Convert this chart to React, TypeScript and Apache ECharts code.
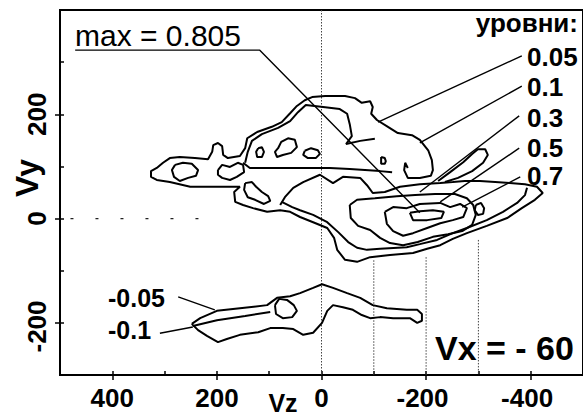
import React, { useEffect, useRef } from "react";
import * as echarts from "echarts";

type P = [number, number];

// Axis ranges (Vz axis runs from +500 on the left to -500 on the right)
const VZ_RANGE: P = [-500, 500];
const VY_RANGE: P = [-300, 400];

// ---- contour level 0.05 (outer boundary of the whole upper structure) ----
const contour005: P[] = [
  [79, 26], [70, 41], [54, 59], [35, 70], [3, 84], [-22, 68], [-41, 80], [-74, 78], [-87, 64], [-98, 49],
  [-121, 51], [-150, 61], [-188, 66], [-227, 68], [-251, 70], [-274, 72], [-303, 72], [-332, 70], [-360, 68],
  [-389, 66], [-412, 61], [-423, 49], [-408, 36], [-383, 20], [-355, 1], [-316, -14], [-278, -28], [-251, -39],
  [-227, -51], [-202, -58], [-175, -66], [-131, -70], [-93, -74], [-68, -83], [-45, -79], [-30, -60], [-24, -37],
  [-11, -18], [16, -7], [41, 3], [60, 13], [79, 16], [104, 13], [131, 20], [150, 26], [165, 32], [167, 51],
  [156, 61], [251, 61], [290, 70], [315, 74], [326, 80], [326, 91], [315, 97], [303, 107], [290, 116], [271, 118],
  [242, 116], [217, 114], [209, 128], [207, 141], [198, 145], [190, 139], [188, 122], [179, 116], [156, 120],
  [146, 135], [142, 154], [123, 166], [95, 176], [76, 185], [60, 202], [47, 216], [32, 227], [18, 233], [-7, 235],
  [-45, 235], [-64, 231], [-77, 222], [-93, 225], [-98, 214], [-95, 201], [-106, 189], [-127, 176], [-146, 164],
  [-173, 160], [-188, 151], [-204, 131], [-211, 112], [-213, 93], [-209, 82], [-188, 78], [-165, 78], [-158, 93],
  [-160, 107], [-165, 97],
];
const contour005Finger: P[] = [
  [-223, 72], [-246, 89], [-271, 108], [-288, 124], [-299, 133], [-313, 133], [-318, 122], [-309, 107],
  [-288, 91], [-261, 78], [-236, 70],
];

// ---- contour level 0.1 ----
const contour01Upper: P[] = [
  [146, 107], [141, 128], [133, 149], [114, 162], [83, 174], [60, 187], [45, 204], [30, 218], [-3, 214],
  [-35, 210], [-49, 201], [-54, 181], [-58, 158], [-47, 143], [-74, 149], [-102, 153],
];
const contour01UpperBase: P[] = [
  [150, 107], [137, 97], [114, 97], [66, 97], [22, 97], [-16, 97], [-54, 95], [-112, 91], [-135, 89],
];
const contour01Central: P[] = [
  [76, 32], [56, 22], [41, 16], [16, 7], [-11, -7], [-32, -26], [-51, -45], [-68, -56], [-87, -60], [-112, -58],
  [-163, -55], [-188, -49], [-221, -41], [-251, -28], [-278, -18], [-316, -3], [-347, 13], [-374, 30], [-389, 45],
  [-393, 59],
];
const islandsUpper: P[][] = [
  [[280, 103], [265, 107], [248, 105], [236, 93], [240, 82], [255, 78], [271, 72], [282, 80], [286, 93], [280, 103]],
  [[198, 93], [190, 103], [175, 99], [160, 107], [150, 103], [148, 89], [162, 80], [175, 74], [190, 78], [198, 84], [198, 93]],
  [[146, 68], [133, 70], [125, 61], [114, 51], [102, 43], [98, 34], [110, 28], [127, 36], [141, 41], [148, 55], [146, 68]],
  [[121, 135], [114, 137], [110, 128], [114, 118], [123, 118], [125, 128], [121, 135]],
  [[83, 135], [77, 147], [64, 154], [51, 151], [47, 137], [58, 126], [74, 122], [85, 118], [89, 128], [83, 135]],
  [[32, 130], [20, 135], [7, 131], [3, 124], [11, 116], [26, 116], [35, 122], [32, 130]],
  [[-114, 118], [-121, 116], [-123, 110], [-121, 105], [-114, 105], [-114, 118]],
];

// ---- contour levels 0.3, 0.5, 0.7 ----
const contour03: P[] = [
  [-54, 26], [-68, 36], [-102, 39], [-144, 43], [-179, 45], [-217, 47], [-255, 47], [-278, 39], [-290, 26],
  [-295, 7], [-288, -12], [-269, -24], [-242, -30], [-213, -35], [-184, -45], [-156, -51], [-131, -47],
  [-112, -37], [-93, -22], [-70, -14], [-56, 1], [-54, 26],
];
const contour03Island: P[] = [[-295, 26], [-305, 30], [-311, 20], [-309, 9], [-299, 7], [-293, 16], [-295, 26]];
const contour05: P[] = [
  [-121, 13], [-137, 22], [-163, 20], [-188, 28], [-227, 30], [-246, 22], [-265, 28], [-278, 20], [-271, 3],
  [-251, -3], [-227, -9], [-202, -18], [-175, -28], [-156, -33], [-137, -24], [-125, -10], [-121, 13],
];
const contour07: P[] = [
  [-169, 11], [-188, 14], [-213, 16], [-234, 13], [-229, 1], [-202, -3], [-175, -3], [-169, 11],
];

// ---- negative levels -0.05, -0.1 ----
const contourNeg005: P[] = [
  [248, -202], [232, -191], [200, -177], [156, -172], [104, -166], [85, -152], [60, -149], [41, -143], [16, -133],
  [-1, -126], [-22, -133], [-49, -143], [-74, -152], [-98, -166], [-125, -172], [-163, -175], [-183, -175],
  [-192, -183], [-192, -196], [-183, -200], [-169, -191], [-137, -191], [-112, -189], [-93, -191], [-77, -185],
  [-60, -175], [-41, -170], [-22, -166], [-11, -177], [-1, -200], [16, -219], [35, -223], [54, -212], [74, -210],
  [98, -210], [121, -218], [156, -223], [181, -231], [198, -237], [219, -225], [236, -214], [248, -202],
];
const contourNeg01Island: P[] = [
  [89, -166], [81, -154], [66, -156], [53, -166], [47, -177], [56, -189], [74, -191], [87, -183], [89, -166],
];
const contourNeg01Line: P[] = [[246, -206], [200, -195], [146, -187], [98, -179]];

// ---- leader lines (label -> contour) ----
const leaderMax: P[] = [[471, 323], [118, 323], [-188, 11]];
const leaders: P[][] = [
  [[-383, 312], [-108, 185]],
  [[-383, 254], [-188, 145]],
  [[-378, 197], [-188, 51]],
  [[-378, 135], [-227, 32]],
  [[-380, 80], [-269, 22]],
  [[274, -150], [204, -175]],
  [[309, -220], [246, -208]],
];

// ---- dotted reference lines ----
const refVz = [0, -100, -200, -300];
const refVyTop = [400, -80, -74, -41];
const zeroLineVz: P = [480, 230];

// ---- texts ----
const levelTitle = "уровни:";
const levelLabels = ["0.05", "0.1", "0.3", "0.5", "0.7"];
const negLabels = ["-0.05", "-0.1"];
const maxLabel = "max = 0.805";
const vxLabel = "Vx = - 60";

const FONT = "Liberation Sans, Arial, Helvetica, sans-serif";

const tickFmt = (v: number) => (v < 0 ? `-${Math.abs(v)}\u00a0` : `${v}`);

export default function App() {
  const ref = useRef<HTMLDivElement>(null);

  useEffect(() => {
    if (!ref.current) return;
    const chart = echarts.init(ref.current, undefined, { renderer: "svg" });

    const line = (data: P[], width = 2, z = 3) => ({
      type: "line",
      xAxisIndex: 0,
      yAxisIndex: 0,
      data,
      symbol: "none",
      showSymbol: false,
      silent: true,
      z,
      lineStyle: { color: "#000", width },
    });

    const series: any[] = [];
    refVz.forEach((vz, i) => {
      series.push({
        type: "line",
        xAxisIndex: 0,
        yAxisIndex: 0,
        data: [[vz, refVyTop[i]], [vz, VY_RANGE[0]]],
        symbol: "none",
        silent: true,
        z: 1,
        lineStyle: { color: "#444", width: 1, type: [1.5, 1.5] },
      });
    });
    series.push({
      type: "line",
      xAxisIndex: 0,
      yAxisIndex: 0,
      data: [[zeroLineVz[0], 0], [zeroLineVz[1], 0]],
      symbol: "none",
      silent: true,
      z: 1,
      lineStyle: { color: "#222", width: 1.2, type: [3, 22] },
    });

    [contour005, contour005Finger, contour01Upper, contour01UpperBase, contour01Central, contour03,
      contour03Island, contour05, contour07, contourNeg005, contourNeg01Island, contourNeg01Line,
      ...islandsUpper].forEach((c) => series.push(line(c, 2)));
    series.push(line(leaderMax, 1.4, 4));
    leaders.forEach((l) => series.push(line(l, 1.4, 4)));

    const txt = (text: string, x: number, y: number, fontSize: number, fontWeight: string, align = "left", rotation = 0) => ({
      type: "text",
      x,
      y,
      rotation,
      z: 10,
      style: {
        text,
        fontSize,
        fontWeight,
        fontFamily: FONT,
        fill: "#000",
        align,
        verticalAlign: "middle",
      },
    });

    const levelY = [57, 87, 118, 148, 176];
    const graphic: any[] = [
      txt(maxLabel, 75, 35, 30, "normal"),
      txt(levelTitle, 578, 23, 26, "bold", "right"),
      ...levelLabels.map((t, i) => txt(t, 527, levelY[i], 26, "bold")),
      txt(negLabels[0], 108, 298, 25, "bold"),
      txt(negLabels[1], 108, 330, 25, "bold"),
      txt(vxLabel, 435, 348, 34, "bold"),
      txt("Vy", 27, 178, 32, "bold", "center", Math.PI / 2),
      txt("Vz", 283, 403, 25, "bold", "center"),
    ];

    const tickLabel = {
      show: true,
      formatter: tickFmt,
      fontSize: 26,
      fontWeight: "bold",
      fontFamily: FONT,
      color: "#000",
    };

    chart.setOption({
      animation: false,
      textStyle: { fontFamily: FONT },
      grid: [
        { left: 60, right: 0, top: 10, bottom: 44, show: true, borderColor: "#000", borderWidth: 2, backgroundColor: "transparent" },
        { left: 112.3, right: 52.3, top: 10, bottom: 44 },
        { left: 60, right: 0, top: 114.3, bottom: 96.1 },
      ],
      xAxis: [
        {
          gridIndex: 0, type: "value", min: VZ_RANGE[0], max: VZ_RANGE[1], interval: 100, inverse: true,
          axisLine: { show: true, onZero: false, lineStyle: { color: "#000", width: 2 } },
          axisTick: { show: true, inside: true, length: 4, lineStyle: { color: "#000", width: 1.5 } },
          axisLabel: { show: false }, splitLine: { show: false },
        },
        {
          gridIndex: 1, type: "value", min: -400, max: 400, interval: 200, inverse: true,
          axisLine: { show: false, onZero: false },
          axisTick: { show: true, inside: false, length: 5, lineStyle: { color: "#000", width: 1.5 } },
          axisLabel: { ...tickLabel, margin: 10 }, splitLine: { show: false },
        },
        { gridIndex: 2, type: "value", show: false, min: 0, max: 1 },
      ],
      yAxis: [
        {
          gridIndex: 0, type: "value", min: VY_RANGE[0], max: VY_RANGE[1], interval: 100,
          axisLine: { show: true, onZero: false, lineStyle: { color: "#000", width: 2 } },
          axisTick: { show: true, inside: true, length: 4, lineStyle: { color: "#000", width: 1.5 } },
          axisLabel: { show: false }, splitLine: { show: false },
        },
        { gridIndex: 1, type: "value", show: false, min: 0, max: 1 },
        {
          gridIndex: 2, type: "value", min: -200, max: 200, interval: 200,
          axisLine: { show: false, onZero: false },
          axisTick: { show: true, inside: false, length: 5, lineStyle: { color: "#000", width: 1.5 } },
          axisLabel: { ...tickLabel, rotate: 90, margin: 10 }, splitLine: { show: false },
        },
      ],
      series,
      graphic,
    });

    return () => chart.dispose();
  }, []);

  return (
    <div
      ref={ref}
      style={{ position: "absolute", left: 0, top: 0, width: 583, height: 419, background: "#fff" }}
    />
  );
}
